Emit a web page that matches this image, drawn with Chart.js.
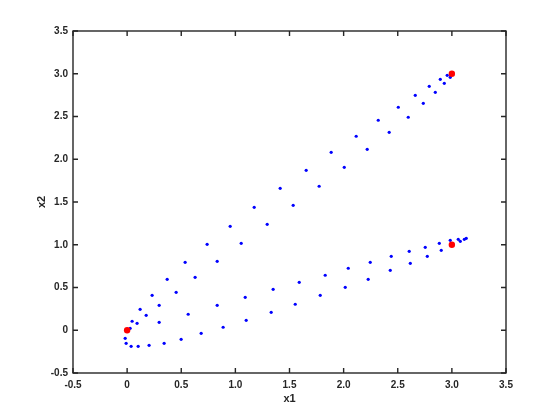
<!DOCTYPE html>
<html><head><meta charset="utf-8">
<script src="https://cdn.jsdelivr.net/npm/chart.js@4"></script>
<style>html,body{margin:0;padding:0;background:#fff}#wrap{width:560px;height:420px;position:relative}</style>
</head><body><div id="wrap"><canvas id="c" width="560" height="420"></canvas></div>
<script>
// ---- data ----
const xTickValues = [-0.5, 0, 0.5, 1, 1.5, 2, 2.5, 3, 3.5];
const yTickValues = [-0.5, 0, 0.5, 1, 1.5, 2, 2.5, 3, 3.5];
const xLabel = 'x1';
const yLabel = 'x2';

// upper branch (two interleaved rows of samples)
const upperX = [2.957, 2.893, 2.791, 2.662, 2.505, 2.320, 2.116, 1.885, 1.654, 1.414, 1.174, 0.952, 0.739, 0.536, 0.370, 0.231, 0.120, 0.046,
                2.985, 2.930, 2.847, 2.736, 2.597, 2.421, 2.218, 2.006, 1.774, 1.534, 1.294, 1.054, 0.832, 0.628, 0.453, 0.296, 0.176, 0.092, 0.028];
const upperY = [2.982, 2.935, 2.853, 2.748, 2.608, 2.456, 2.269, 2.081, 1.871, 1.660, 1.438, 1.216, 1.005, 0.795, 0.596, 0.409, 0.245, 0.105,
                2.958, 2.888, 2.783, 2.654, 2.491, 2.315, 2.116, 1.906, 1.684, 1.461, 1.239, 1.017, 0.806, 0.619, 0.444, 0.292, 0.175, 0.081, 0.023];

// lower branch (loop below origin and two interleaved rows)
const lowerX = [-0.018, -0.009, 0.037, 0.102, 0.203, 0.342, 0.499, 0.684, 0.887, 1.100, 1.331, 1.553, 1.784, 2.015, 2.227, 2.431, 2.616, 2.773, 2.902, 3.078,
                0.296, 0.564, 0.832, 1.091, 1.349, 1.590, 1.830, 2.043, 2.246, 2.440, 2.606, 2.754, 2.884, 2.985, 3.059, 3.115, 3.133];
const lowerY = [-0.094, -0.153, -0.188, -0.188, -0.176, -0.153, -0.106, -0.036, 0.035, 0.116, 0.210, 0.304, 0.409, 0.502, 0.596, 0.701, 0.783, 0.865, 0.935, 1.040,
                0.093, 0.187, 0.292, 0.385, 0.479, 0.561, 0.643, 0.725, 0.795, 0.865, 0.923, 0.970, 1.017, 1.052, 1.064, 1.064, 1.075];

// highlighted points
const markX = [0, 3, 3];
const markY = [0, 3, 1];

const toPts = (xs, ys) => xs.map((x, i) => ({x: x, y: ys[i]}));

const AX = '#262626';
const FONT = '"Liberation Sans", Arial, Helvetica, sans-serif';

const frameTicks = {
  id: 'frameTicks',
  afterDraw(chart) {
    const {ctx, chartArea: a, scales} = chart;
    ctx.save();
    ctx.strokeStyle = AX;
    ctx.lineWidth = 1.4;
    const L = 5;
    ctx.beginPath();
    xTickValues.forEach(v => {
      const p = scales.x.getPixelForValue(v);
      ctx.moveTo(p, a.bottom); ctx.lineTo(p, a.bottom - L);
      ctx.moveTo(p, a.top); ctx.lineTo(p, a.top + L);
    });
    yTickValues.forEach(v => {
      const p = scales.y.getPixelForValue(v);
      ctx.moveTo(a.left, p); ctx.lineTo(a.left + L, p);
      ctx.moveTo(a.right, p); ctx.lineTo(a.right - L, p);
    });
    ctx.stroke();
    ctx.strokeRect(a.left, a.top, a.right - a.left, a.bottom - a.top);
    ctx.restore();
  }
};

new Chart(document.getElementById('c'), {
  type: 'scatter',
  data: {
    datasets: [
      {label: 'marks', data: toPts(markX, markY), backgroundColor: '#ff0000', borderWidth: 0, pointRadius: 3.2, order: 0},
      {label: 'upper', data: toPts(upperX, upperY), backgroundColor: '#0000ff', borderWidth: 0, pointRadius: 1.6, order: 1},
      {label: 'lower', data: toPts(lowerX, lowerY), backgroundColor: '#0000ff', borderWidth: 0, pointRadius: 1.6, order: 1}
    ]
  },
  options: {
    responsive: false,
    animation: false,
    events: [],
    layout: {padding: {top: 31, right: 54, left: 0, bottom: 0}},
    plugins: {legend: {display: false}, tooltip: {enabled: false}},
    scales: {
      x: {
        type: 'linear', min: -0.5, max: 3.5,
        afterBuildTicks: s => { s.ticks = xTickValues.map(v => ({value: v})); },
        afterFit: s => { s.height = 47; },
        grid: {display: false, drawTicks: false},
        border: {display: false},
        ticks: {color: AX, padding: 6, maxRotation: 0, autoSkip: false, font: {family: FONT, size: 10, weight: 'bold'}},
        title: {display: true, text: xLabel, color: AX, font: {family: FONT, size: 11, weight: 'bold'}, padding: {top: 0, bottom: 14}}
      },
      y: {
        type: 'linear', min: -0.5, max: 3.5,
        afterBuildTicks: s => { s.ticks = yTickValues.map(v => ({value: v})); },
        afterFit: s => { s.width = 73; },
        grid: {display: false, drawTicks: false},
        border: {display: false},
        ticks: {color: AX, padding: 5, autoSkip: false, font: {family: FONT, size: 10, weight: 'bold'}},
        title: {display: true, text: yLabel, color: AX, font: {family: FONT, size: 11, weight: 'bold'}, padding: {top: 35, bottom: 0}}
      }
    }
  },
  plugins: [frameTicks]
});
</script>
</body></html>
